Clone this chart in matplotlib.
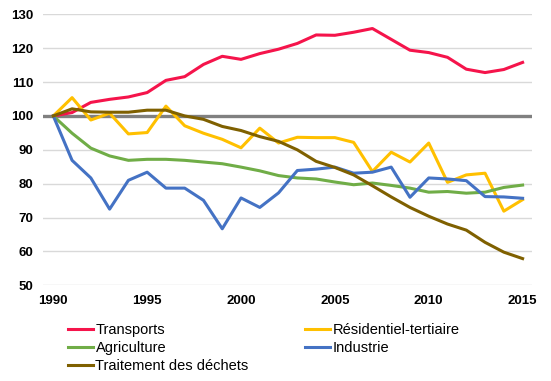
import matplotlib.pyplot as plt

years = list(range(1990, 2016))

transports = [100, 101.0, 104.0, 104.9, 105.6, 106.9, 110.5, 111.6, 115.2, 117.6,
              116.7, 118.4, 119.7, 121.4, 123.9, 123.8, 124.7, 125.8, 122.6, 119.4,
              118.7, 117.3, 113.8, 112.8, 113.7, 115.8]
residentiel = [100, 105.4, 98.8, 100.8, 94.7, 95.1, 102.9, 97.1, 94.9, 93.1,
               90.6, 96.4, 92.0, 93.7, 93.6, 93.6, 92.2, 83.6, 89.3, 86.4,
               92.0, 80.4, 82.6, 83.1, 71.9, 75.3]
agriculture = [100, 94.9, 90.5, 88.2, 86.9, 87.2, 87.2, 86.9, 86.4, 85.9,
               84.9, 83.8, 82.4, 81.7, 81.4, 80.5, 79.7, 80.2, 79.5, 78.7,
               77.5, 77.7, 77.2, 77.5, 78.9, 79.6]
industrie = [100, 86.9, 81.7, 72.5, 81.0, 83.4, 78.7, 78.7, 75.1, 66.7,
             75.8, 73.0, 77.3, 83.9, 84.3, 84.9, 83.1, 83.4, 84.9, 76.0,
             81.7, 81.4, 80.9, 76.2, 76.1, 75.7]
dechets = [100, 102.1, 101.2, 101.1, 101.1, 101.7, 101.7, 100.0, 99.0, 96.9,
           95.7, 93.9, 92.5, 90.0, 86.6, 84.8, 82.6, 79.4, 76.1, 73.0,
           70.4, 68.1, 66.3, 62.7, 59.8, 57.9]

plt.rcParams['font.family'] = ['Liberation Sans', 'DejaVu Sans']

fig = plt.figure(figsize=(5.51, 3.81), dpi=100)
ax = fig.add_axes([0.078, 0.251, 0.8875, 0.7115])

# reference line at 100
ax.axhline(100, color='#808080', linewidth=2.4, zorder=2)

lw = 2.2
l_tr, = ax.plot(years, transports, color='#F5144B', linewidth=lw, label='Transports', zorder=3)
l_res, = ax.plot(years, residentiel, color='#FFC000', linewidth=lw, label='Résidentiel-tertiaire', zorder=3)
l_agr, = ax.plot(years, agriculture, color='#70AD47', linewidth=lw, label='Agriculture', zorder=3)
l_ind, = ax.plot(years, industrie, color='#4472C4', linewidth=lw, label='Industrie', zorder=3)
l_dec, = ax.plot(years, dechets, color='#7F6000', linewidth=lw, label='Traitement des déchets', zorder=3)

ax.set_xlim(1989.45, 2015.5)
ax.set_ylim(50, 130)
ax.set_xticks(range(1990, 2016, 5))
ax.set_yticks(range(50, 131, 10))
ax.grid(axis='y', color='#d9d9d9', linewidth=1)
ax.set_axisbelow(True)
for s in ax.spines.values():
    s.set_visible(False)
ax.tick_params(axis='y', length=0, labelsize=9.5, pad=7)
ax.tick_params(axis='x', length=0, labelsize=9.5, pad=7)
for lab in ax.get_xticklabels() + ax.get_yticklabels():
    lab.set_fontweight('bold')

# legend in two independent columns
leg_kw = dict(frameon=False, loc='upper left', fontsize=10.5, handlelength=1.7,
              handletextpad=0.2, labelspacing=0.28, borderaxespad=0, borderpad=0)
fig.legend(handles=[l_tr, l_agr, l_dec], bbox_to_anchor=(0.123, 0.153), **leg_kw)
fig.legend(handles=[l_res, l_ind], bbox_to_anchor=(0.5535, 0.153), **leg_kw)

fig.savefig('out.png', dpi=100)
